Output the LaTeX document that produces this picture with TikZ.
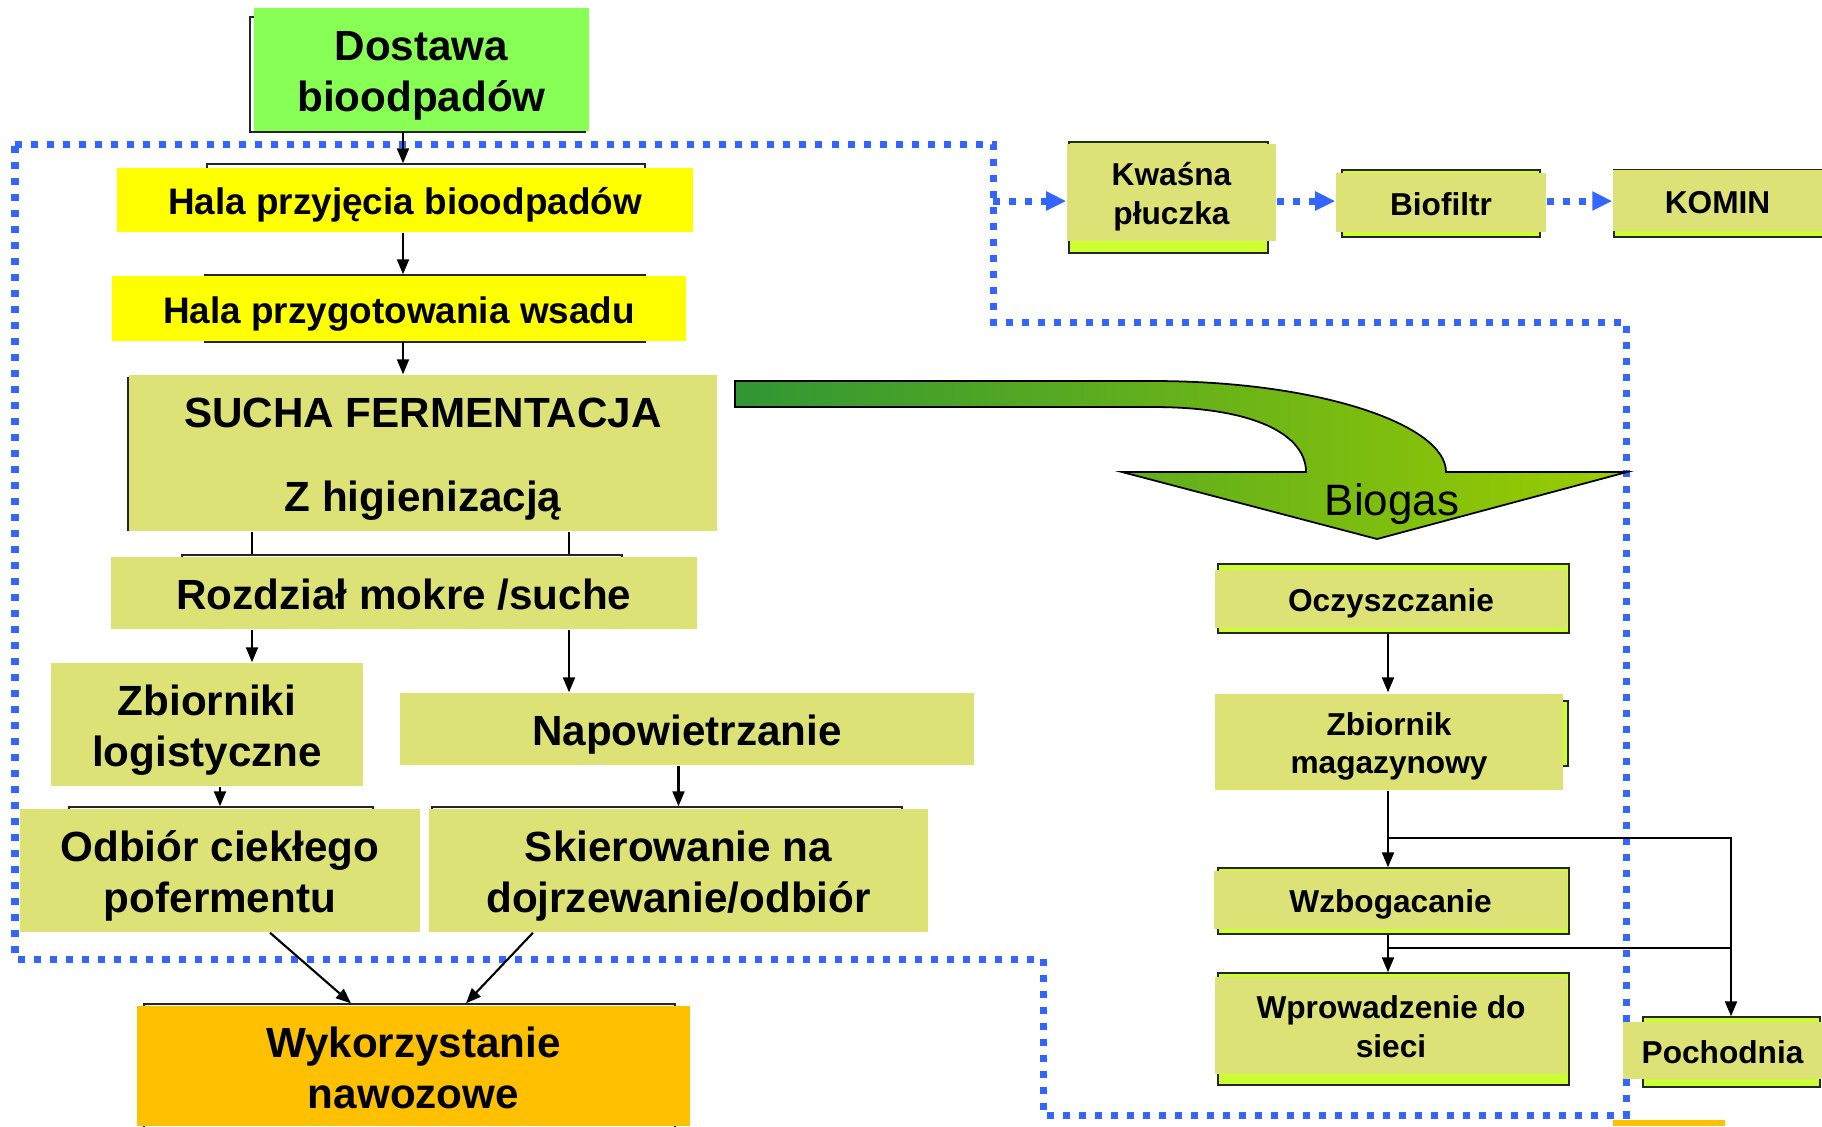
\documentclass[tikz,border=0pt]{standalone}
\usepackage{fontspec}
\setmainfont{Liberation Sans}
\usetikzlibrary{arrows.meta,backgrounds}
\definecolor{boxolive}{RGB}{220,226,118}
\definecolor{boxyellow}{RGB}{255,255,0}
\definecolor{boxgreen}{RGB}{136,255,85}
\definecolor{boxorange}{RGB}{255,192,0}
\definecolor{framelime}{RGB}{204,255,51}
\definecolor{gasblue}{RGB}{51,102,255}
\definecolor{arrowdark}{RGB}{48,150,52}
\definecolor{arrowlight}{RGB}{155,205,0}
\newcommand{\linestrut}{\rule[-0.21em]{0pt}{1.21em}}
\begin{document}
\begin{tikzpicture}[x=0.01cm, y=-0.01cm,
  box/.style={fill=boxolive, inner sep=0pt, align=center,
    font=\bfseries\fontsize{12}{14.5}\selectfont,
    execute at end node=\linestrut},
  smallbox/.style={box, font=\bfseries\fontsize{9}{11}\selectfont},
  hallbox/.style={box, fill=boxyellow, font=\bfseries\fontsize{10.5}{12.6}\selectfont},
  boxsize/.style 2 args={minimum width=#1cm, minimum height=#2cm},
  frame/.style={draw=black!85, line width=0.8pt},
  limeframe/.style={frame, fill=framelime},
  link/.style={line width=0.6pt},
  flow/.style={link, -{Triangle[length=1.5mm,width=1.2mm]}},
  gas/.style={gasblue, line width=0.07cm, dash pattern=on 0.07cm off 0.09cm},
  gasflow/.style={gas, -{Triangle[length=2mm,width=1.8mm]}}]
  \useasboundingbox (0,0) rectangle (1822,1126);

  \node[box, fill=boxgreen, boxsize={3.35}{1.23}] (dostawa) at (421.5,69.5) {\linestrut Dostawa\\bioodpadów};
  \node[hallbox, boxsize={5.76}{0.64}] (przyjecie) at (405,200) {Hala przyjęcia bioodpadów};
  \node[hallbox, boxsize={5.74}{0.65}] (wsad) at (399,308.5) {Hala przygotowania wsadu};
  \node[box, boxsize={5.88}{1.56}] (fermentacja) at (423,453) {\linestrut SUCHA FERMENTACJA\\[0.33cm]Z higienizacją};
  \node[box, boxsize={5.86}{0.72}] (rozdzial) at (404,593) {Rozdział mokre /suche};
  \node[box, boxsize={3.12}{1.23}] (zbiorniki) at (207,724.5) {\linestrut Zbiorniki\\logistyczne};
  \node[box, boxsize={5.74}{0.72}] (napow) at (687,729) {Napowietrzanie};
  \node[box, boxsize={4.00}{1.23}] (odbior) at (220,870.5) {\linestrut Odbiór ciekłego\\pofermentu};
  \node[box, boxsize={4.99}{1.23}] (skier) at (678.5,870.5) {\linestrut Skierowanie na\\dojrzewanie/odbiór};
  \node[box, fill=boxorange, boxsize={5.53}{1.20}] (wykorz) at (413.5,1066) {\linestrut Wykorzystanie\\nawozowe};

  \node[smallbox, boxsize={2.09}{0.97}] (kwasna) at (1171.5,192.5) {\linestrut Kwaśna\\płuczka};
  \node[smallbox, boxsize={2.10}{0.59}] (biofiltr) at (1441,202.5) {Biofiltr};
  \node[smallbox, boxsize={2.09}{0.61}] (komin) at (1717.5,200.5) {KOMIN};

  \node[smallbox, boxsize={3.52}{0.58}] (oczysz) at (1391,599) {Oczyszczanie};
  \node[smallbox, boxsize={3.48}{0.96}] (zbiornik) at (1389,742) {\linestrut Zbiornik\\magazynowy};
  \node[smallbox, boxsize={3.53}{0.58}] (wzbog) at (1390.5,900) {Wzbogacanie};
  \node[smallbox, boxsize={3.52}{0.97}] (wprow) at (1391,1025.5) {\linestrut Wprowadzenie do\\sieci};
  \node[smallbox, boxsize={1.99}{0.57}] (pochodnia) at (1722.5,1050.5) {Pochodnia};

  \begin{scope}[on background layer]
    \draw[frame] (250,17) rectangle (585,132);
    \draw[frame] (207,164) rectangle (645,228);
    \draw[frame] (205,275) rectangle (645,342);
    \draw[frame] (128,378) rectangle (700,530);
    \draw[frame] (182,555) rectangle (622,625);
    \draw[frame] (69,807) rectangle (373,925);
    \draw[frame] (432,807) rectangle (902,925);
    \draw[frame] (144,1004) rectangle (675,1130);
    \draw[limeframe] (1069,142) rectangle (1268,253);
    \draw[limeframe] (1342,170) rectangle (1540,237);
    \draw[limeframe] (1614,170) rectangle (1830,237);
    \draw[limeframe] (1218,564) rectangle (1569,633);
    \draw[limeframe] (1218,701) rectangle (1568,766);
    \draw[limeframe] (1218,868) rectangle (1569,934);
    \draw[limeframe] (1218,973) rectangle (1569,1085);
    \draw[limeframe] (1643,1017) rectangle (1820,1087);
    \draw[gas] (15,144) -- (993,144) -- (993,322) -- (1626,322) -- (1626,1115)
      -- (1043,1115) -- (1043,959) -- (15,959) -- cycle;
  \end{scope}
  \fill[boxorange] (1613,1120) rectangle (1725,1126);

  \draw[line width=0.5pt, left color=arrowdark, right color=arrowlight]
    (735,381) -- (1153,381) .. controls (1320,381) and (1446,425) .. (1446,472)
    -- (1627,472) -- (1377,539) -- (1122,472) -- (1306,472)
    .. controls (1306,435) and (1255,407) .. (1153,407) -- (735,407) -- cycle;
  \node[font=\fontsize{12.5}{15}\selectfont, inner sep=0pt] (biogas) at (1392,504) {Biogas};

  \coordinate (spine) at (403,0);
  \coordinate (wetline) at (252,0);
  \coordinate (dryline) at (569,0);
  \coordinate (gasline) at (1388,0);
  \coordinate (flareline) at (1731,0);
  \coordinate (gastap) at (993,201);

  \draw[flow] (dostawa.south -| spine) -- ([yshift=0.04cm]przyjecie.north -| spine);
  \draw[flow] (przyjecie.south -| spine) -- ([yshift=0.01cm]wsad.north -| spine);
  \draw[flow] (wsad.south -| spine) -- (fermentacja.north -| spine);
  \draw[link] (fermentacja.south -| wetline) -- ([yshift=0.02cm]rozdzial.north -| wetline);
  \draw[link] (fermentacja.south -| dryline) -- ([yshift=0.02cm]rozdzial.north -| dryline);
  \draw[flow] (rozdzial.south -| wetline) -- (zbiorniki.north -| wetline);
  \draw[flow] (rozdzial.south -| dryline) -- (napow.north -| dryline);
  \draw[flow] (zbiorniki.south -| odbior.north) -- ([yshift=0.02cm]odbior.north);
  \draw[flow] (napow.south -| skier.north) -- ([yshift=0.02cm]skier.north);
  \draw[flow] ([xshift=0.5cm]odbior.south) -- ([xshift=-0.625cm, yshift=0.02cm]wykorz.north);
  \draw[flow] ([xshift=-1.455cm]skier.south) -- ([xshift=0.525cm, yshift=0.02cm]wykorz.north);

  \draw[gasflow] (gastap) -- (gastap -| kwasna.west);
  \draw[gasflow] (kwasna.east |- gastap) -- (gastap -| biofiltr.west);
  \draw[gasflow] (biofiltr.east |- gastap) -- (gastap -| komin.west);

  \draw[flow] ([yshift=-0.05cm]oczysz.south -| gasline) -- ([yshift=0.01cm]zbiornik.north -| gasline);
  \draw[flow] (zbiornik.south -| gasline) -- ([yshift=0.03cm]wzbog.north -| gasline);
  \draw[flow] (zbiornik.south -| gasline) -- ++(0,47) -| ([yshift=0.05cm]pochodnia.north -| flareline);
  \draw[flow] ([yshift=-0.05cm]wzbog.south -| gasline) -- ([yshift=0.04cm]wprow.north -| gasline);
  \draw[link] ([yshift=-0.18cm]wzbog.south -| gasline) -- ([yshift=-0.18cm]wzbog.south -| flareline);
\end{tikzpicture}
\end{document}
